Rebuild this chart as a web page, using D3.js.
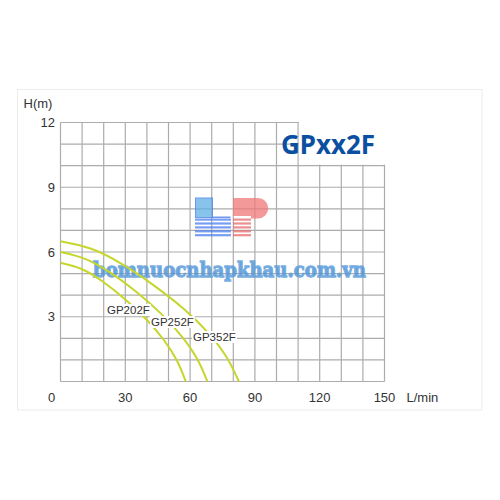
<!DOCTYPE html>
<html>
<head>
<meta charset="utf-8">
<script src="https://cdn.jsdelivr.net/npm/d3@7"></script>
<style>
  html, body { margin: 0; padding: 0; background: #fff; }
  svg { display: block; }
</style>
</head>
<body>
<svg id="chart" width="500" height="500"></svg>
<script>
// pump curves (flow L/min, head m)
const models = ["GP202F", "GP252F", "GP352F"];
const flowGP202F = [0, 10, 20, 30, 40, 48, 54, 58];
const headGP202F = [5.5, 5.2, 4.6, 3.8, 2.85, 1.9, 0.95, 0];
const flowGP252F = [0, 11.7, 23.4, 35.2, 46.9, 56.3, 63.3, 68];
const headGP252F = [6.0, 5.67, 5.02, 4.15, 3.11, 2.07, 1.04, 0];
const flowGP352F = [0, 14.2, 28.5, 42.7, 57, 68.4, 76.9, 82.6];
const headGP352F = [6.5, 6.15, 5.44, 4.49, 3.37, 2.25, 1.12, 0];

const xTicks = [0, 30, 60, 90, 120, 150];
const yTicks = [3, 6, 9, 12];
const title = "GPxx2F";
const watermark = "bomnuocnhapkhau.com.vn";

const curves = [
  { name: models[0], flow: flowGP202F, head: headGP202F, label: [107, 314] },
  { name: models[1], flow: flowGP252F, head: headGP252F, label: [151, 326] },
  { name: models[2], flow: flowGP352F, head: headGP352F, label: [193, 341] }
];

const svg = d3.select("#chart");
const font = "'Liberation Sans', Arial, sans-serif";

// --- outer frame ---
svg.append("rect")
  .attr("x", 17.5).attr("y", 89.5)
  .attr("width", 464.5).attr("height", 320.5)
  .attr("fill", "#fff").attr("stroke", "#ececec");

const x = d3.scaleLinear().domain([0, 150]).range([60.5, 384.5]);
const y = d3.scaleLinear().domain([0, 12]).range([381.5, 122.5]);

const grid = svg.append("g");
const gridColor = "#acacac";

grid.selectAll(".vline")
  .data(d3.range(0, 151, 10))
  .enter().append("line")
  .attr("x1", d => x(d)).attr("x2", d => x(d))
  .attr("y1", y(0)).attr("y2", y(12))
  .attr("stroke", gridColor).attr("stroke-width", 1.2);

grid.selectAll(".hline")
  .data(d3.range(0, 13, 1))
  .enter().append("line")
  .attr("x1", x(0)).attr("x2", x(150))
  .attr("y1", d => y(d)).attr("y2", d => y(d))
  .attr("stroke", gridColor).attr("stroke-width", 1.2);

// --- title box over the top right cells ---
svg.append("rect")
  .attr("x", x(110) + 0.8).attr("y", y(12) - 1)
  .attr("width", x(150) - x(110) + 1).attr("height", y(10) - y(12))
  .attr("fill", "#fff");

svg.append("text")
  .attr("x", 328).attr("y", 154)
  .attr("text-anchor", "middle")
  .attr("font-family", "'Noto Sans', 'Open Sans', sans-serif")
  .attr("font-weight", "bold").attr("font-size", 26)
  .attr("fill", "#0b4fa0")
  .text(title);

// --- logo watermark ---
const logo = svg.append("g").attr("opacity", 0.75);
logo.append("rect")
  .attr("x", 195.5).attr("y", 198).attr("width", 17).attr("height", 19.5)
  .attr("fill", "#5fb0e6").attr("stroke", "#3f78e6").attr("stroke-width", 1);
logo.append("rect")
  .attr("x", 212).attr("y", 216.5).attr("width", 18.5).attr("height", 1.5)
  .attr("fill", "#3f78e6");
d3.range(5).forEach(i => {
  logo.append("rect")
    .attr("x", 195).attr("y", 218.5 + i * 3.9).attr("width", 36).attr("height", 2.2)
    .attr("fill", "#4a7ef0");
  logo.append("rect")
    .attr("x", 233).attr("y", 218.5 + i * 3.9).attr("width", 18).attr("height", 2.2)
    .attr("fill", "#e86a6a");
});
logo.append("path")
  .attr("d", "M233,198 H258 A10,10 0 0 1 258,218.5 H251 V216 H233 Z")
  .attr("fill", "#f07878");

svg.append("text")
  .attr("x", 93).attr("y", 276.5)
  .attr("textLength", 273).attr("lengthAdjust", "spacingAndGlyphs")
  .attr("font-family", "'DejaVu Serif', serif")
  .attr("font-weight", "bold").attr("font-size", 21)
  .attr("fill", "#4f94d8").attr("opacity", 0.85)
  .attr("stroke", "#5f9fdc").attr("stroke-width", 1.3)
  .text(watermark);

// --- curves ---
const line = d3.line()
  .x(d => x(d[0])).y(d => y(d[1]))
  .curve(d3.curveNatural);

svg.append("g").selectAll("path")
  .data(curves)
  .enter().append("path")
  .attr("d", c => line(c.flow.map((f, i) => [f, c.head[i]])))
  .attr("fill", "none")
  .attr("stroke", "#c5d62c")
  .attr("stroke-width", 2);

// curve labels with white backing
curves.forEach(c => {
  const t = svg.append("text")
    .attr("x", c.label[0]).attr("y", c.label[1])
    .attr("font-family", font).attr("font-size", 11.5)
    .attr("fill", "#333")
    .text(c.name);
  const b = t.node().getBBox();
  svg.insert("rect", () => t.node())
    .attr("x", b.x - 1).attr("y", b.y)
    .attr("width", b.width + 2).attr("height", b.height)
    .attr("fill", "#fff");
});

// --- tick labels ---
svg.append("g").selectAll("text")
  .data(yTicks)
  .enter().append("text")
  .attr("x", 55).attr("y", d => y(d))
  .attr("dy", "0.35em")
  .attr("text-anchor", "end")
  .attr("font-family", font).attr("font-size", 13).attr("fill", "#333")
  .text(d => d);

svg.append("g").selectAll("text")
  .data(xTicks)
  .enter().append("text")
  .attr("x", d => d === 0 ? 51.5 : x(d))
  .attr("y", 397)
  .attr("dy", "0.35em")
  .attr("text-anchor", "middle")
  .attr("font-family", font).attr("font-size", 13).attr("fill", "#333")
  .text(d => d);

svg.append("text")
  .attr("x", 406.5).attr("y", 397).attr("dy", "0.35em")
  .attr("font-family", font).attr("font-size", 13).attr("fill", "#333")
  .text("L/min");

svg.append("text")
  .attr("x", 23.5).attr("y", 103.5).attr("dy", "0.35em")
  .attr("font-family", font).attr("font-size", 13).attr("fill", "#333")
  .text("H(m)");
</script>
</body>
</html>
